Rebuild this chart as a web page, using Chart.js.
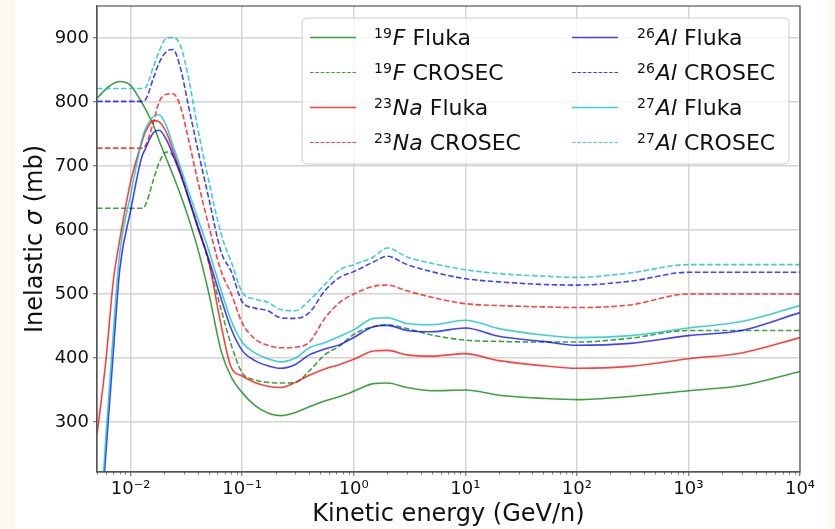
<!DOCTYPE html>
<html>
<head>
<meta charset="utf-8">
<script src="https://cdn.jsdelivr.net/npm/chart.js@4"></script>
<style>
  html, body { margin: 0; padding: 0; }
  body {
    width: 835px; height: 529px; overflow: hidden;
    background: linear-gradient(to right, #fdf9f1 15px, #ffffff 15px, #ffffff 828px, #fdf9f1 828px);
  }
  canvas { display: block; }
</style>
</head>
<body>
<canvas id="sigmaChart" width="835" height="529"></canvas>
<script>
// kinetic energy grid (GeV/n)
const energy = [0.005, 0.006, 0.007, 0.008, 0.01, 0.0125, 0.0135, 0.016, 0.018, 0.021,
  0.024, 0.028, 0.033, 0.04, 0.05, 0.065, 0.08, 0.1, 0.13, 0.17,
  0.22, 0.3, 0.4, 0.55, 0.75, 1, 1.5, 2, 3, 5,
  10, 20, 50, 100, 300, 1000, 3000, 10000];

// inelastic cross sections (mb)
const fFluka = [806, 820, 829, 832, 826, 800, 790, 764, 740, 711,
  686, 655, 619, 571, 503, 410, 370, 346, 326, 314,
  310, 315, 324, 333, 340, 348, 360, 361, 354, 349,
  350, 342, 337, 335, 340, 349, 357, 379];
const fCrosec = [634, 634, 634, 634, 634, 634, 638, 678, 705, 722,
  716, 690, 651, 607, 550, 475, 420, 377, 366, 362,
  361, 362, 380, 405, 419, 437, 449, 452, 446, 436,
  428, 426, 425, 425, 431, 443, 443, 443];
const naFluka = [280, 395, 520, 585, 675, 735, 752, 771, 769, 752,
  724, 690, 650, 606, 552, 450, 385, 372, 362, 356,
  354, 362, 373, 383, 390, 398, 411, 412, 405, 403,
  407, 396, 388, 384, 387, 399, 408, 432];
const naCrosec = [728, 728, 728, 728, 728, 728, 731, 768, 800, 812,
  813, 793, 742, 677, 608, 535, 500, 455, 430, 420,
  416, 417, 425, 462, 487, 500, 512, 514, 505, 495,
  485, 482, 480, 479, 483, 500, 500, 500];
const al26Fluka = [60, 250, 409, 539, 630, 712, 726, 752, 756, 741,
  717, 687, 651, 604, 555, 492, 445, 412, 396, 388,
  384, 390, 405, 414, 421, 432, 449, 451, 443, 441,
  447, 434, 426, 420, 423, 435, 443, 471];
const al26Crosec = [801, 801, 801, 801, 801, 801, 803, 837, 861, 879,
  882, 853, 794, 726, 651, 565, 535, 488, 478, 474,
  463, 462, 471, 505, 526, 535, 550, 559, 546, 535,
  524, 519, 515, 514, 520, 534, 534, 534];
const al27Fluka = [60, 275, 440, 565, 655, 738, 757, 777, 780, 762,
  732, 698, 661, 618, 569, 505, 458, 425, 408, 399,
  394, 400, 416, 424, 434, 444, 462, 463, 454, 452,
  459, 446, 436, 432, 435, 447, 457, 482];
const al27Crosec = [821, 821, 821, 821, 821, 821, 822, 855, 879, 900,
  901, 888, 838, 759, 678, 593, 550, 503, 492, 487,
  476, 474, 490, 515, 538, 546, 558, 572, 558, 548,
  538, 532, 528, 526, 533, 546, 546, 546];

// legend text pieces
const massNumbers = ['19', '19', '23', '23', '26', '26', '27', '27'];
const elements = ['F', 'F', 'Na', 'Na', 'Al', 'Al', 'Al', 'Al'];
const codes = ['Fluka', 'CROSEC', 'Fluka', 'CROSEC', 'Fluka', 'CROSEC', 'Fluka', 'CROSEC'];

// axis ticks
const xTickValues = [1e-2, 1e-1, 1e0, 1e1, 1e2, 1e3, 1e4];
const xTickLabels = ['10\u207B\u00B2', '10\u207B\u00B9', '10\u2070', '10\u00B9', '10\u00B2', '10\u00B3', '10\u2074'];
const yTickValues = [300, 400, 500, 600, 700, 800, 900];

const seriesValues = [fFluka, fCrosec, naFluka, naCrosec, al26Fluka, al26Crosec, al27Fluka, al27Crosec];
const seriesColors = ['rgba(0,128,0,0.75)', 'rgba(0,128,0,0.75)', 'rgba(255,0,0,0.75)', 'rgba(255,0,0,0.75)',
  'rgba(0,0,255,0.75)', 'rgba(0,0,255,0.75)', 'rgba(0,191,191,0.75)', 'rgba(0,191,191,0.75)'];

const FONT = '"DejaVu Sans", sans-serif';

const datasets = seriesValues.map((vals, i) => ({
  label: massNumbers[i] + elements[i] + ' ' + codes[i],
  data: energy.map((e, j) => ({ x: e, y: vals[j] })),
  borderColor: seriesColors[i],
  borderWidth: 1.6,
  borderDash: codes[i] === 'CROSEC' ? [5.5, 2.5] : [],
  pointRadius: 0,
  cubicInterpolationMode: 'monotone',
  fill: false,
  order: seriesValues.length - i
}));

// frame, minor ticks, y title and the legend with superscripts / italics
const decorPlugin = {
  id: 'decor',
  afterDraw(chart) {
    const ctx = chart.ctx;
    const area = chart.chartArea;
    const xs = chart.scales.x;
    ctx.save();

    // minor ticks on the log axis
    ctx.strokeStyle = '#555';
    ctx.lineWidth = 0.8;
    for (let d = -3; d < 4; d++) {
      for (let m = 2; m < 10; m++) {
        const v = m * Math.pow(10, d);
        if (v < xs.min || v > xs.max) continue;
        const px = Math.round(xs.getPixelForValue(v)) + 0.5;
        ctx.beginPath();
        ctx.moveTo(px, area.bottom);
        ctx.lineTo(px, area.bottom + 2.5);
        ctx.stroke();
      }
    }

    // frame
    ctx.strokeStyle = '#555';
    ctx.lineWidth = 1.2;
    ctx.strokeRect(area.left, area.top, area.right - area.left, area.bottom - area.top);

    // y title
    ctx.fillStyle = '#111';
    ctx.textBaseline = 'middle';
    ctx.textAlign = 'left';
    const parts = [['Inelastic ', 'normal'], ['\u03C3', 'italic'], [' (mb)', 'normal']];
    let total = 0;
    parts.forEach(p => { ctx.font = p[1] + ' 24px ' + FONT; total += ctx.measureText(p[0]).width; });
    ctx.translate(36, (area.top + area.bottom) / 2);
    ctx.rotate(-Math.PI / 2);
    let tx = -total / 2;
    parts.forEach(p => {
      ctx.font = p[1] + ' 24px ' + FONT;
      ctx.fillText(p[0], tx, 0);
      tx += ctx.measureText(p[0]).width;
    });
    ctx.setTransform(1, 0, 0, 1, 0, 0);

    // legend box
    ctx.beginPath();
    ctx.roundRect(302, 18, 487, 146, 5);
    ctx.fillStyle = 'rgba(255,255,255,0.8)';
    ctx.fill();
    ctx.strokeStyle = '#cccccc';
    ctx.lineWidth = 1;
    ctx.stroke();

    chart.data.datasets.forEach((ds, i) => {
      const col = Math.floor(i / 4);
      const row = i % 4;
      const lx = col === 0 ? 310 : 572;
      const ly = 37 + row * 35;
      const dashed = codes[i] === 'CROSEC';
      ctx.beginPath();
      ctx.strokeStyle = ds.borderColor;
      ctx.lineWidth = dashed ? 1.1 : 1.6;
      ctx.setLineDash(dashed ? [3.7, 1.6] : []);
      ctx.moveTo(lx, ly + 0.5);
      ctx.lineTo(lx + 46, ly + 0.5);
      ctx.stroke();
      ctx.setLineDash([]);

      let x = col === 0 ? 374 : 637;
      ctx.fillStyle = '#111';
      ctx.textBaseline = 'alphabetic';
      ctx.font = '14px ' + FONT;
      ctx.fillText(massNumbers[i], x, ly + 1);
      x += ctx.measureText(massNumbers[i]).width + 1;
      ctx.font = 'italic 22px ' + FONT;
      ctx.fillText(elements[i], x, ly + 8);
      x += ctx.measureText(elements[i]).width;
      ctx.font = '22px ' + FONT;
      ctx.fillText(' ' + codes[i], x, ly + 8);
    });
    ctx.restore();
  }
};

const ctxSigma = document.getElementById('sigmaChart').getContext('2d');
new Chart(ctxSigma, {
  type: 'line',
  data: { datasets: datasets },
  options: {
    responsive: false,
    animation: false,
    layout: { padding: { left: 22, right: 35, top: 6, bottom: 0 } },
    plugins: {
      legend: { display: false },
      tooltip: { enabled: false }
    },
    scales: {
      x: {
        type: 'logarithmic',
        min: 0.005,
        max: 10000,
        afterBuildTicks: (scale) => { scale.ticks = xTickValues.map(v => ({ value: v })); },
        afterFit: (scale) => { scale.height = 57; scale.paddingLeft = 0; scale.paddingRight = 0; },
        ticks: {
          autoSkip: false,
          maxRotation: 0,
          padding: 3,
          color: '#111',
          font: { family: FONT, size: 18 },
          callback: (value, index) => xTickLabels[index]
        },
        grid: { color: '#d4d4d4', lineWidth: 1.5, tickColor: '#555', tickLength: 4, tickWidth: 1 },
        border: { display: true, color: '#555', width: 1.2 },
        title: {
          display: true,
          text: 'Kinetic energy (GeV/n)',
          color: '#111',
          font: { family: FONT, size: 24 },
          padding: { top: 0, bottom: 0 }
        }
      },
      y: {
        min: 222,
        max: 950,
        afterBuildTicks: (scale) => { scale.ticks = yTickValues.map(v => ({ value: v })); },
        afterFit: (scale) => { scale.width = 75; scale.paddingTop = 0; scale.paddingBottom = 0; },
        ticks: {
          padding: 4,
          color: '#111',
          font: { family: FONT, size: 18 }
        },
        grid: { color: '#d4d4d4', lineWidth: 1.5, tickColor: '#555', tickLength: 4, tickWidth: 1 },
        border: { display: true, color: '#555', width: 1.2 }
      }
    }
  },
  plugins: [decorPlugin]
});
</script>
</body>
</html>
